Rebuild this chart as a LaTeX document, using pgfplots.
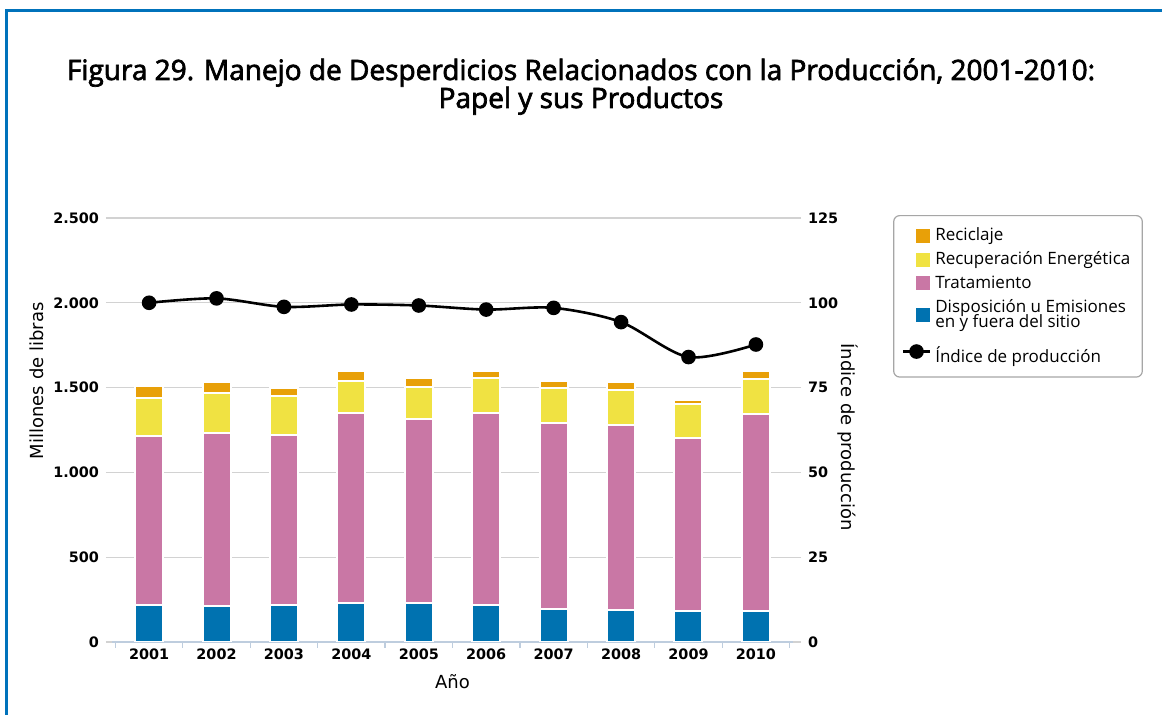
\documentclass[border=0pt]{standalone}
\usepackage{fontspec}
\setmainfont{DejaVu Sans}
\newfontfamily\titlefont{Open Sans}[FakeBold=2.5]
\newfontfamily\legfont{Open Sans}
\usepackage{pgfplots}
\usepackage{pgfplotstable}
\pgfplotsset{compat=1.18}

\definecolor{cblue}{RGB}{0,114,176}
\definecolor{cpink}{RGB}{201,119,165}
\definecolor{cyellow}{RGB}{240,226,66}
\definecolor{corange}{RGB}{232,160,8}
\definecolor{frameblue}{RGB}{0,114,187}
\definecolor{gridgray}{RGB}{210,210,210}
\definecolor{axisblue}{RGB}{190,205,222}

\pgfplotsset{
  sqlegend/.style={legend image code/.code={\fill[##1, draw=none, sharp corners] (6.5pt,-3.5pt) rectangle (13.5pt,3.5pt);}},
  dotlegend/.style={legend image code/.code={%
    \draw[##1,sharp corners,mark repeat=2,mark phase=2] plot coordinates {(0pt,0pt) (6.75pt,0pt) (13.5pt,0pt)};}},
}

% millions of pounds per category
\pgfplotstableread{
idx blue pink yellow orange
0 217 1000 221 69
1 211 1021 236 63
2 217 1006 225 51
3 231 1122 188 55
4 227 1087 187 53
5 217 1133 204 42
6 197 1097 204 43
7 191 1090 207 45
8 183 1017 203 24
9 183 1161 209 43
}\wastetable

% production index
\pgfplotstableread{
idx index
0 100.0
1 101.3
2 98.8
3 99.5
4 99.2
5 98.0
6 98.5
7 94.3
8 84.0
9 87.7
}\indextable

\begin{document}
\begin{tikzpicture}
\useasboundingbox (0,0) rectangle (581pt,357.5pt);
\draw[frameblue, line width=1.5pt] (3pt,-2pt) -- (3pt,352pt) -- (583pt,352pt);
\node[anchor=base, font=\titlefont\fontsize{14}{16}\selectfont] at (290.5pt,317.5pt)
  {Figura 29. Manejo de Desperdicios Relacionados con la Producción, 2001-2010:};
\node[anchor=base, font=\titlefont\fontsize{14}{16}\selectfont] at (290.5pt,303.5pt)
  {Papel y sus Productos};

\begin{axis}[
  at={(56pt,36.5pt)}, anchor=south west,
  scale only axis, width=340.5pt, height=212pt,
  ybar stacked, bar width=14pt,
  xmin=-0.55, xmax=9.55,
  ymin=0, ymax=2500,
  ytick={0,500,1000,1500,2000,2500},
  yticklabels={0,500,{1.000},{1.500},{2.000},{2.500}},
  ymajorgrids, grid style={gridgray, line width=0.6pt},
  axis x line*=bottom, axis y line*=left,
  y axis line style={draw=none},
  x axis line style={axisblue, line width=0.8pt},
  tick align=outside, major tick length=3pt,
  xtick={-0.5,0.5,1.5,2.5,3.5,4.5,5.5,6.5,7.5,8.5,9.5}, xticklabels={},
  xtick style={axisblue, line width=0.6pt},
  extra x ticks={0,1,2,3,4,5,6,7,8,9},
  extra x tick labels={2001,2002,2003,2004,2005,2006,2007,2008,2009,2010},
  extra x tick style={major tick length=0pt, grid=none},
  ytick style={gridgray, line width=0.6pt},
  tick label style={font=\fontsize{7.2}{8}\selectfont\bfseries},
  /pgf/number format/assume math mode=true,
  xlabel={Año},
  xlabel style={at={(axis description cs:0.5,-0.094)}, anchor=center, font=\fontsize{9}{10}\selectfont},
  ylabel={Millones de libras},
  ylabel style={at={(axis description cs:-0.110,0.616)}, anchor=center, font=\fontsize{9}{10}\selectfont},
]
\addplot[fill=cblue, draw=white, line width=1pt] table[x=idx,y=blue]{\wastetable};
\addplot[fill=cpink, draw=white, line width=1pt] table[x=idx,y=pink]{\wastetable};
\addplot[fill=cyellow, draw=white, line width=1pt] table[x=idx,y=yellow]{\wastetable};
\addplot[fill=corange, draw=white, line width=1pt] table[x=idx,y=orange]{\wastetable};
\end{axis}

\begin{axis}[
  at={(56pt,36.5pt)}, anchor=south west,
  scale only axis, width=340.5pt, height=212pt,
  xmin=-0.55, xmax=9.55,
  ymin=0, ymax=125,
  ytick={0,25,50,75,100,125},
  yticklabels={0,25,50,75,100,125},
  axis x line=none, axis y line*=right,
  y axis line style={draw=none},
  tick align=outside, major tick length=4pt,
  ytick style={gridgray, line width=0.6pt},
  tick label style={font=\fontsize{7.2}{8}\selectfont\bfseries},
  /pgf/number format/assume math mode=true,
  ylabel={Índice de producción},
  ylabel style={at={(axis description cs:1.081,0.483)}, rotate=180, anchor=center, font=\fontsize{9}{10}\selectfont},
  legend style={at={(1.147,1.007)}, anchor=north west, draw=gray!70, line width=0.6pt,
    rounded corners=3pt, font=\legfont\fontsize{8.5}{10}\selectfont,
    cells={anchor=west, align=left}, row sep=0pt, inner xsep=4pt, inner ysep=4pt},
]
\addlegendimage{sqlegend, fill=corange}
\addlegendentry{Reciclaje}
\addlegendimage{sqlegend, fill=cyellow}
\addlegendentry{Recuperación Energética}
\addlegendimage{sqlegend, fill=cpink}
\addlegendentry{Tratamiento}
\addlegendimage{sqlegend, fill=cblue}
\addlegendentry{Disposición u Emisiones\\[-2.5pt]en y fuera del sitio}
\addplot[black, line width=1.3pt, smooth, mark=*, mark size=3pt, dotlegend]
  table[x=idx,y=index]{\indextable};
\addlegendentry{\rule{0pt}{12pt}Índice de producción}
\end{axis}
\end{tikzpicture}
\end{document}
